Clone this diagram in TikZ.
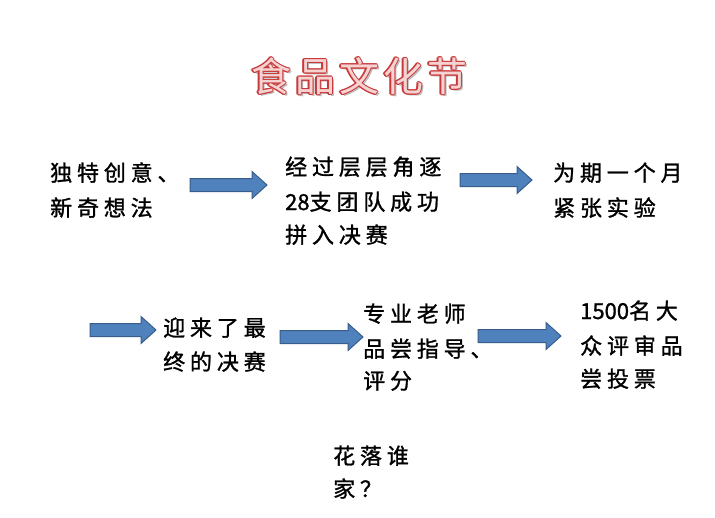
\documentclass[tikz,border=0pt]{standalone}
\usepackage{fontspec}
\newfontfamily\cjk[LetterSpace=22,FakeBold=1.2]{Noto Sans CJK SC}
\newfontfamily\cjkt[LetterSpace=10]{Noto Sans CJK SC}
\newcommand\nols[1]{{\addfontfeature{LetterSpace=0}#1}}
\definecolor{arrowfill}{HTML}{4F81BD}
\definecolor{arrowedge}{HTML}{385D8A}
\definecolor{titleedge}{HTML}{C83A3A}
\definecolor{titlefill}{HTML}{F6D2D2}
\tikzset{
  txt/.style={inner sep=0pt, anchor=base west, font=\cjk\fontsize{22}{26}\selectfont, text=black},
  ttl/.style={inner sep=0pt, font=\cjkt\fontsize{40}{44}\selectfont},
  arrowbox/.style={fill=arrowfill, draw=arrowedge, line width=1pt, line join=miter},
  pics/barrow/.style={code={
    \draw[arrowbox] (0,-6.5) -- (#1-15,-6.5) -- (#1-15,-13.5) -- (#1,0) -- (#1-15,13.5) -- (#1-15,6.5) -- (0,6.5) -- cycle;}}
}
\begin{document}
\begin{tikzpicture}[x=1pt,y=-1pt]
\path[fill=white,use as bounding box] (0,0) rectangle (715,517);
% title
\node[ttl, text=black!25] (tsh) at (361,78) {食品文化节};
\foreach \dx/\dy [count=\i] in {-1.2/0,1.2/0,0/-1.2,0/1.2,-0.9/-0.9,0.9/0.9,-0.9/0.9,0.9/-0.9}
  \node[ttl, text=titleedge] (te\i) at (359+\dx,76+\dy) {食品文化节};
\node[ttl, text=titlefill] (title) at (359,76) {食品文化节};
% arrows
\pic (a1) at (190,185) {barrow=77};
\pic (a2) at (460,180) {barrow=72};
\pic (a3) at (90,330) {barrow=66};
\pic (a4) at (280,337) {barrow=83};
\pic (a5) at (478,336) {barrow=83};
% texts
\node[txt] (b1a) at (50,181) {独特创意、};
\node[txt] (b1b) at (50,216) {新奇想法};
\node[txt] (b2a) at (285,175) {经过层层角逐};
\node[txt] (b2b) at (285,210) {\nols{28}支团队成功};
\node[txt] (b2c) at (285,243) {拼入决赛};
\node[txt] (b3a) at (553,181) {为期一个月};
\node[txt] (b3b) at (553,216) {紧张实验};
\node[txt] (b4a) at (163,336) {迎来了最};
\node[txt] (b4b) at (163,370) {终的决赛};
\node[txt] (b5a) at (363,322) {专业老师};
\node[txt] (b5b) at (363,357) {品尝指导、};
\node[txt] (b5c) at (363,389) {评分};
\node[txt] (b6a) at (580,319) {\nols{1500}名大};
\node[txt] (b6b) at (580,354) {众评审品};
\node[txt] (b6c) at (580,387) {尝投票};
\node[txt] (b7a) at (333,464) {花落谁};
\node[txt] (b7b) at (333,497) {家？};
\end{tikzpicture}
\end{document}
